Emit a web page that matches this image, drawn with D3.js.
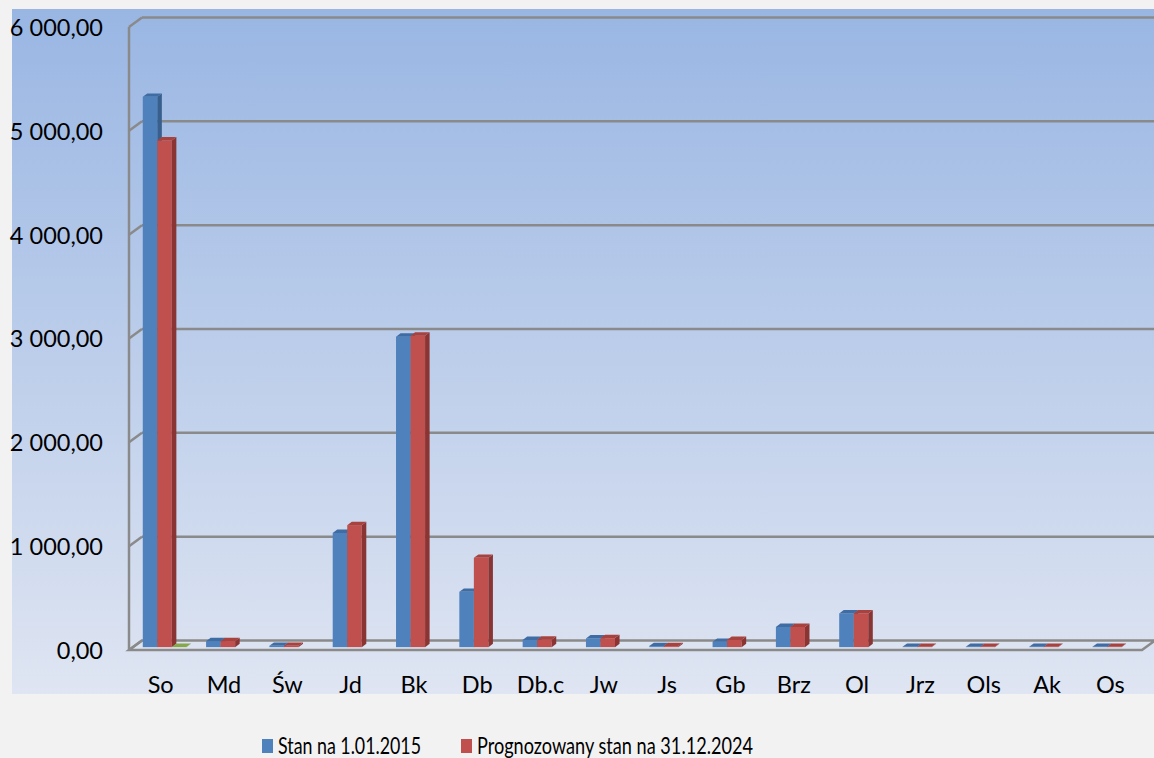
<!DOCTYPE html>
<html>
<head>
<meta charset="utf-8">
<script src="https://cdn.jsdelivr.net/npm/d3@7"></script>
<style>
  html, body { margin: 0; padding: 0; background: #f2f2f2; }
  svg { display: block; }
  text { font-family: Lato, "Open Sans", sans-serif; fill: #000; }
</style>
</head>
<body>
<svg id="chart" width="1154" height="758"></svg>
<script>
// ---- data ----
const categories = ["So","Md","Św","Jd","Bk","Db","Db.c","Jw","Js","Gb","Brz","Ol","Jrz","Ols","Ak","Os"];
const stan2015   = [5300, 58, 13, 1100, 2990, 533, 70, 84, 10, 51, 195, 325, 3, 3, 3, 3];
const prog2024   = [4880, 58, 13, 1175, 3000, 860, 72, 87, 10, 70, 195, 325, 3, 3, 3, 3];
const series3    = [2, null, null, null, null, null, null, null, null, null, null, null, null, null, null, null];
const seriesNames = ["Stan na 1.01.2015", "Prognozowany stan na 31.12.2024"];
const yTicks = [0, 1000, 2000, 3000, 4000, 5000, 6000];
const yTickLabels = ["0,00", "1 000,00", "2 000,00", "3 000,00", "4 000,00", "5 000,00", "6 000,00"];

// ---- layout ----
const svg = d3.select("#chart");
const W = 1154, H = 758;
const plotL = 129, plotR = 1142, floorY = 650, topY = 27;
const dX = 13, dY = -9.5;           // depth offset of the back wall
const t0 = 0.3, t1 = 0.65;          // bar depth band

const defs = svg.append("defs");
const grad = defs.append("linearGradient").attr("id","bg").attr("x1",0).attr("y1",0).attr("x2",0).attr("y2",1);
grad.append("stop").attr("offset","0%").attr("stop-color","#99b6e3");
grad.append("stop").attr("offset","100%").attr("stop-color","#dfe5f2");

svg.append("rect").attr("x",0).attr("y",0).attr("width",W).attr("height",H).attr("fill","#f2f2f2");
svg.append("rect").attr("x",12).attr("y",9).attr("width",W-12).attr("height",694-9).attr("fill","url(#bg)");

const x = d3.scaleBand().domain(categories).range([plotL, plotR]).padding(0);
const sKeys = ["a","b","c"];
const xs = d3.scaleBand().domain(sKeys).range([0, x.bandwidth()]).paddingInner(0).paddingOuter(0.68);
const y = d3.scaleLinear().domain([0, 6000]).range([floorY, topY]);

const grid = svg.append("g");
const gridColor = "#8a8a8a";
// floor
grid.append("path")
  .attr("d", `M${plotL},${floorY} L${plotR},${floorY} L${plotR+dX},${floorY+dY} L${plotL+dX},${floorY+dY} Z`)
  .attr("fill", "#dde4f1").attr("fill-opacity", 0.6)
  .attr("stroke", gridColor).attr("stroke-width", 2.5);
// left wall
grid.append("line").attr("x1",plotL).attr("y1",y(6000)).attr("x2",plotL).attr("y2",floorY)
  .attr("stroke",gridColor).attr("stroke-width",2.5);
// gridlines on back wall + left wall stubs
yTicks.forEach(v => {
  if (v > 0) {
    grid.append("line").attr("x1",plotL+dX).attr("y1",y(v)+dY).attr("x2",W+2).attr("y2",y(v)+dY)
      .attr("stroke",gridColor).attr("stroke-width",2.5);
  } else {
    grid.append("line").attr("x1",plotR+dX).attr("y1",y(v)+dY).attr("x2",W+2).attr("y2",y(v)+dY)
      .attr("stroke",gridColor).attr("stroke-width",2.5);
  }
  grid.append("line").attr("x1",plotL).attr("y1",y(v)).attr("x2",plotL+dX).attr("y2",y(v)+dY)
    .attr("stroke",gridColor).attr("stroke-width",2.5);
});

// ---- bars ----
const colors = {
  a: {front:"#4f81bd", side:"#385f8e", top:"#3f6ca3"},
  b: {front:"#c0504d", side:"#8a3533", top:"#a8423f"},
  c: {front:"#9bbb59", side:"#71893f", top:"#86a84a"}
};
const bars = svg.append("g");
const fx = t0*dX, fy = t0*dY;
const ddx = (t1-t0)*dX, ddy = (t1-t0)*dY;
categories.forEach((c, i) => {
  const vals = {a: stan2015[i], b: prog2024[i], c: series3[i]};
  sKeys.forEach(k => {
    const v = vals[k];
    if (v == null) return;
    const x0 = x(c) + xs(k) + fx, w = xs.bandwidth();
    const yb = y(0) + fy, yt = y(v) + fy;
    const g = bars.append("g");
    g.append("rect").attr("x",x0).attr("y",yt).attr("width",w).attr("height",Math.max(0,yb-yt)).attr("fill",colors[k].front);
    g.append("path").attr("d",`M${x0+w},${yt} L${x0+w+ddx},${yt+ddy} L${x0+w+ddx},${yb+ddy} L${x0+w},${yb} Z`).attr("fill",colors[k].side);
    g.append("path").attr("d",`M${x0},${yt} L${x0+ddx},${yt+ddy} L${x0+w+ddx},${yt+ddy} L${x0+w},${yt} Z`).attr("fill",colors[k].top);
  });
});

// ---- axes ----
const yAxis = d3.axisLeft(y).tickValues(yTicks).tickSize(0).tickPadding(0)
  .tickFormat(d => yTickLabels[yTicks.indexOf(d)]);
const gy = svg.append("g").attr("transform","translate(103,0)").call(yAxis);
gy.select(".domain").remove();
gy.selectAll("text").attr("font-size", 23.5).attr("font-family","Lato, sans-serif").attr("fill","#000")
  .attr("dy","0.36em");

const xAxis = d3.axisBottom(x).tickSize(0).tickPadding(0);
const gx = svg.append("g").attr("transform",`translate(0,${floorY})`).call(xAxis);
gx.select(".domain").remove();
gx.selectAll("text").attr("font-size", 23.5).attr("font-family","Lato, sans-serif").attr("fill","#000")
  .attr("dy", null).attr("y", 42.5);

// ---- legend ----
const legend = svg.append("g");
const legItems = [
  {name: seriesNames[0], color: colors.a.front, x: 262, len: 143},
  {name: seriesNames[1], color: colors.b.front, x: 461, len: 276}
];
legItems.forEach(it => {
  legend.append("rect").attr("x", it.x).attr("y", 739).attr("width", 11).attr("height", 14).attr("fill", it.color);
  legend.append("text").attr("x", it.x + 16).attr("y", 754).attr("font-size", 23)
    .attr("textLength", it.len).attr("lengthAdjust","spacingAndGlyphs").text(it.name);
});
</script>
</body>
</html>
